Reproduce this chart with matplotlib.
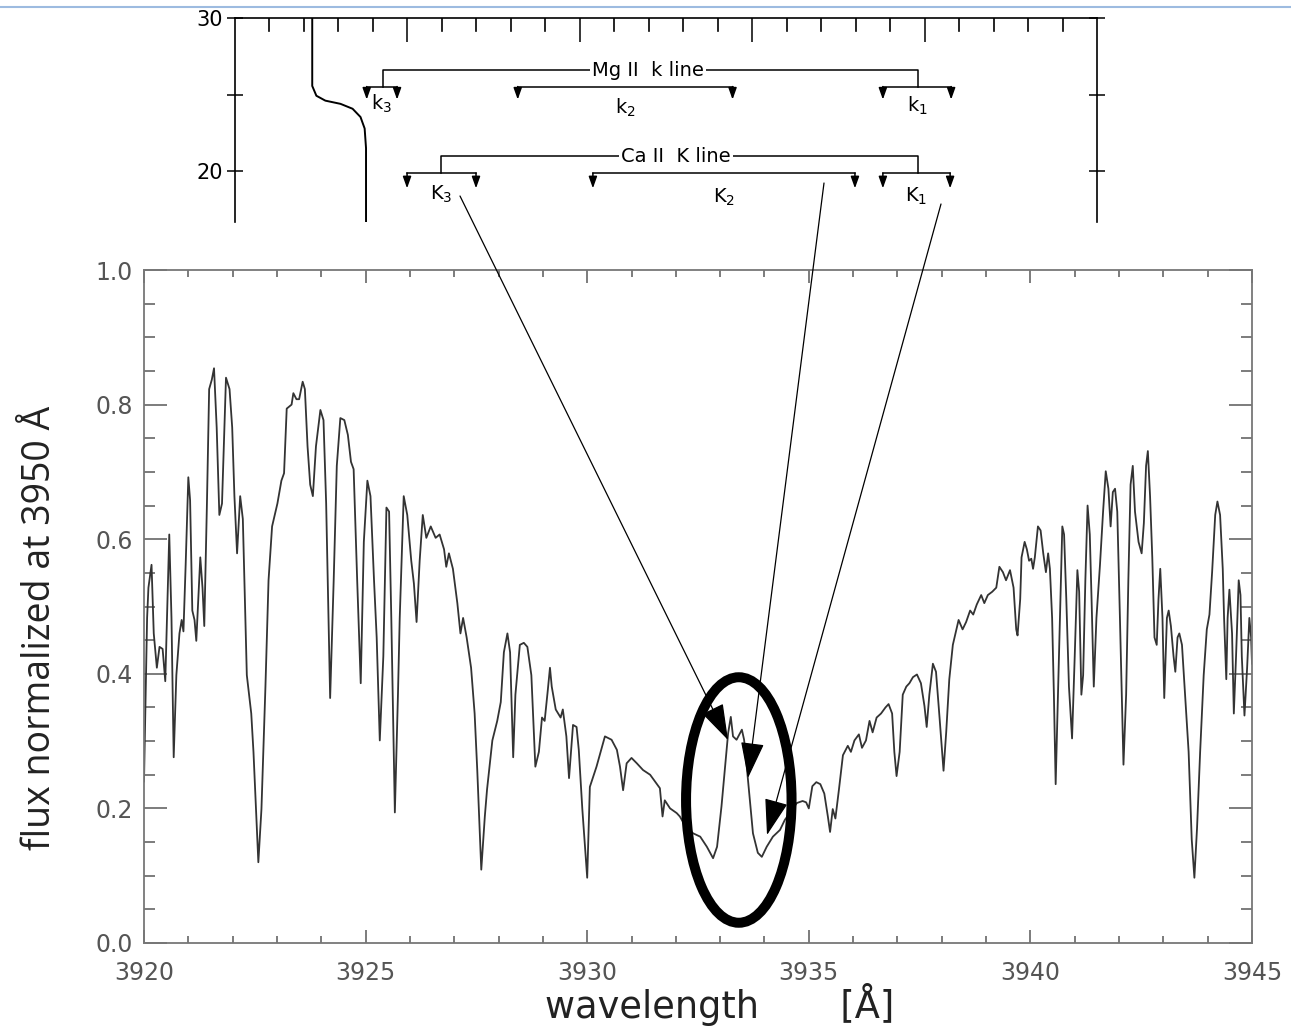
import matplotlib
matplotlib.use("Agg")
import matplotlib.pyplot as plt
from matplotlib.ticker import MultipleLocator, FixedLocator
from matplotlib.patches import Ellipse, FancyArrowPatch
from matplotlib.lines import Line2D

plt.rcParams["mathtext.default"] = "regular"

# Ca II K spectrum (wavelength in A, flux normalized at 3950 A)
wavelength = [
    3920.00, 3920.07, 3920.10, 3920.17, 3920.22, 3920.29, 3920.35, 3920.42, 3920.48, 3920.57,
    3920.62, 3920.67, 3920.73, 3920.80, 3920.85, 3920.89, 3920.94, 3921.00, 3921.04, 3921.09,
    3921.14, 3921.18, 3921.27, 3921.32, 3921.36, 3921.42, 3921.47, 3921.53, 3921.58, 3921.64,
    3921.70, 3921.76, 3921.85, 3921.93, 3921.99, 3922.04, 3922.10, 3922.17, 3922.23, 3922.32,
    3922.42, 3922.47, 3922.58, 3922.65, 3922.74, 3922.81, 3922.89, 3923.01, 3923.10, 3923.16,
    3923.22, 3923.33, 3923.37, 3923.44, 3923.50, 3923.58, 3923.63, 3923.69, 3923.75, 3923.81,
    3923.88, 3923.98, 3924.05, 3924.11, 3924.20, 3924.28, 3924.35, 3924.43, 3924.52, 3924.60,
    3924.67, 3924.73, 3924.81, 3924.89, 3924.96, 3925.04,
    3925.11, 3925.19, 3925.25, 3925.32, 3925.40, 3925.47, 3925.53, 3925.58, 3925.66, 3925.73,
    3925.77, 3925.86, 3925.94, 3926.03, 3926.09, 3926.15, 3926.22, 3926.29, 3926.37, 3926.47,
    3926.58, 3926.67, 3926.77, 3926.82, 3926.88, 3926.97, 3927.07, 3927.14, 3927.20, 3927.28,
    3927.38, 3927.46, 3927.52, 3927.61, 3927.69, 3927.74, 3927.86, 3927.97, 3928.05, 3928.12,
    3928.20, 3928.26, 3928.33, 3928.38, 3928.48, 3928.57, 3928.65, 3928.74, 3928.83, 3928.91,
    3928.98, 3929.04, 3929.11, 3929.16, 3929.20, 3929.29, 3929.40, 3929.45, 3929.53, 3929.59,
    3929.68, 3929.76, 3929.81, 3929.89, 3930.00,
    3930.06, 3930.21, 3930.40, 3930.55, 3930.67, 3930.74, 3930.81, 3930.89, 3931.00, 3931.12,
    3931.26, 3931.42, 3931.53, 3931.64, 3931.70, 3931.75, 3931.87, 3932.02, 3932.09, 3932.25,
    3932.39, 3932.55, 3932.70, 3932.84, 3932.93, 3933.03, 3933.11, 3933.18, 3933.24, 3933.29,
    3933.37, 3933.49, 3933.54, 3933.60, 3933.67, 3933.74, 3933.85, 3933.94, 3934.05, 3934.19,
    3934.35, 3934.46, 3934.57, 3934.73,
    3934.86, 3934.94, 3935.00, 3935.08, 3935.17, 3935.26, 3935.35, 3935.43, 3935.48, 3935.54,
    3935.60, 3935.68, 3935.77, 3935.88, 3935.95, 3936.03, 3936.13, 3936.20, 3936.29, 3936.37,
    3936.44, 3936.53, 3936.63, 3936.73, 3936.80, 3936.88, 3936.93, 3936.98, 3937.05, 3937.12,
    3937.20, 3937.27, 3937.35, 3937.44, 3937.53, 3937.61, 3937.66, 3937.72, 3937.80, 3937.87,
    3937.95, 3938.04, 3938.10, 3938.17, 3938.25, 3938.38, 3938.47, 3938.55, 3938.64, 3938.71,
    3938.79, 3938.89, 3938.96, 3939.04, 3939.14, 3939.23, 3939.30, 3939.38, 3939.45, 3939.54,
    3939.62, 3939.68, 3939.71, 3939.77,
    3939.80, 3939.87, 3939.92, 3939.97, 3940.02, 3940.06, 3940.10, 3940.17, 3940.23, 3940.29,
    3940.35, 3940.40, 3940.44, 3940.49, 3940.53, 3940.57, 3940.60, 3940.66, 3940.72, 3940.76,
    3940.81, 3940.87, 3940.94, 3941.00, 3941.06, 3941.10, 3941.15, 3941.19, 3941.24, 3941.29,
    3941.34, 3941.38, 3941.43, 3941.49, 3941.57, 3941.64, 3941.70, 3941.76, 3941.81, 3941.86,
    3941.91, 3941.96, 3942.02, 3942.10, 3942.16, 3942.21, 3942.26, 3942.31, 3942.36, 3942.44,
    3942.51, 3942.56, 3942.61, 3942.65, 3942.70, 3942.75, 3942.80, 3942.85, 3942.89, 3942.93,
    3942.98, 3943.02, 3943.08, 3943.12, 3943.17, 3943.23, 3943.27, 3943.32, 3943.36, 3943.42,
    3943.49, 3943.57, 3943.64, 3943.70, 3943.76, 3943.83, 3943.91, 3943.98, 3944.04, 3944.10,
    3944.17, 3944.22, 3944.28, 3944.34, 3944.37, 3944.42, 3944.45, 3944.49, 3944.55, 3944.59,
    3944.64, 3944.70, 3944.74, 3944.77, 3944.83, 3944.89, 3944.94, 3944.98, 3945.00,
]
flux = [
    0.240, 0.483, 0.528, 0.562, 0.460, 0.409, 0.440, 0.437, 0.389, 0.607,
    0.483, 0.276, 0.398, 0.460, 0.480, 0.463, 0.562, 0.692, 0.658, 0.494,
    0.480, 0.449, 0.573, 0.528, 0.471, 0.653, 0.823, 0.837, 0.854, 0.766,
    0.636, 0.653, 0.840, 0.823, 0.766, 0.664, 0.579, 0.664, 0.630, 0.398,
    0.341, 0.284, 0.120, 0.199, 0.381, 0.539, 0.619, 0.653, 0.687, 0.698,
    0.794, 0.800, 0.817, 0.808, 0.808, 0.834, 0.823, 0.738, 0.681, 0.664,
    0.738, 0.792, 0.777, 0.653, 0.364, 0.539, 0.709, 0.780, 0.777, 0.755,
    0.715, 0.704, 0.539, 0.386, 0.596, 0.687,
    0.664, 0.539, 0.454, 0.301, 0.426, 0.647, 0.641, 0.483, 0.194, 0.369,
    0.483, 0.664, 0.636, 0.568, 0.534, 0.477, 0.568, 0.636, 0.602, 0.619,
    0.602, 0.607, 0.585, 0.559, 0.579, 0.556, 0.505, 0.460, 0.483, 0.454,
    0.409, 0.341, 0.256, 0.109, 0.188, 0.228, 0.301, 0.330, 0.358, 0.432,
    0.460, 0.432, 0.276, 0.369, 0.443, 0.446, 0.440, 0.398, 0.262, 0.284,
    0.335, 0.330, 0.375, 0.409, 0.381, 0.347, 0.335, 0.347, 0.307, 0.245,
    0.324, 0.321, 0.287, 0.199, 0.097,
    0.232, 0.262, 0.307, 0.302, 0.287, 0.262, 0.227, 0.267, 0.275, 0.267,
    0.257, 0.250, 0.240, 0.230, 0.188, 0.212, 0.200, 0.193, 0.188, 0.170,
    0.163, 0.158, 0.143, 0.126, 0.143, 0.203, 0.262, 0.312, 0.336, 0.307,
    0.302, 0.317, 0.302, 0.262, 0.212, 0.163, 0.134, 0.128, 0.143, 0.158,
    0.168, 0.183, 0.193, 0.208,
    0.211, 0.209, 0.200, 0.233, 0.239, 0.236, 0.222, 0.188, 0.165, 0.199,
    0.185, 0.228, 0.279, 0.293, 0.284, 0.301, 0.310, 0.290, 0.301, 0.330,
    0.313, 0.335, 0.341, 0.350, 0.355, 0.341, 0.284, 0.248, 0.284, 0.369,
    0.381, 0.386, 0.395, 0.399, 0.386, 0.352, 0.321, 0.369, 0.415, 0.403,
    0.335, 0.256, 0.313, 0.392, 0.443, 0.480, 0.466, 0.477, 0.494, 0.488,
    0.503, 0.517, 0.505, 0.517, 0.522, 0.528, 0.559, 0.551, 0.539, 0.554,
    0.528, 0.466, 0.457, 0.511,
    0.573, 0.596, 0.585, 0.568, 0.571, 0.556, 0.573, 0.619, 0.613, 0.579,
    0.551, 0.579, 0.556, 0.483, 0.369, 0.236, 0.313, 0.471, 0.619, 0.607,
    0.511, 0.381, 0.304, 0.426, 0.554, 0.522, 0.369, 0.398, 0.539, 0.650,
    0.607, 0.511, 0.381, 0.483, 0.562, 0.641, 0.701, 0.675, 0.619, 0.670,
    0.675, 0.641, 0.483, 0.265, 0.369, 0.539, 0.681, 0.709, 0.641, 0.596,
    0.579, 0.624, 0.709, 0.731, 0.664, 0.573, 0.454, 0.443, 0.511, 0.556,
    0.483, 0.364, 0.483, 0.494, 0.471, 0.426, 0.403, 0.454, 0.460, 0.443,
    0.369, 0.284, 0.154, 0.097, 0.171, 0.284, 0.398, 0.466, 0.488, 0.551,
    0.636, 0.656, 0.636, 0.556, 0.483, 0.392, 0.483, 0.525, 0.460, 0.341,
    0.426, 0.539, 0.517, 0.426, 0.338, 0.409, 0.483, 0.454, 0.415,
]

x_ticks = [3920, 3925, 3930, 3935, 3940, 3945]
y_ticks = [0.0, 0.2, 0.4, 0.6, 0.8, 1.0]

# inset (cut-out of the older figure): height profile on the left
profile_x = [2.24, 2.24, 2.36, 2.62, 3.06, 3.41, 3.64, 3.76, 3.80, 3.80]
profile_y = [30.0, 25.56, 24.92, 24.60, 24.39, 24.07, 23.53, 22.78, 21.50, 16.67]
inset_y_ticks = [20, 30]
inset_long_ticks = [5, 10, 15, 20]
inset_short_ticks = [1, 2, 3, 4, 6, 7, 8, 9, 11, 12, 13, 14, 16, 17, 18, 19, 21, 22, 23, 24]

W, H = 1291, 1026


def fig_xy(px, py):
    return px / W, 1 - py / H


fig = plt.figure(figsize=(W / 100, H / 100), dpi=100)

# ---- main spectrum
ax = fig.add_axes([144 / W, 1 - 943 / H, 1108 / W, 673 / H])
ax.plot(wavelength, flux, color="#333333", lw=1.3)
ax.set_xlim(3920, 3945)
ax.set_ylim(0, 1)
ax.set_xticks(x_ticks)
ax.set_xticklabels([str(t) for t in x_ticks])
ax.set_yticks(y_ticks)
ax.set_yticklabels([f"{t:.1f}" for t in y_ticks])
ax.xaxis.set_minor_locator(MultipleLocator(1))
ax.yaxis.set_minor_locator(MultipleLocator(0.05))
for s in ax.spines.values():
    s.set_color("#777777")
    s.set_linewidth(1.3)
ax.tick_params(axis="x", which="major", direction="in", length=9.5, width=1.2, top=True,
               color="#666666", pad=13, labelsize=17, labelcolor="#555555")
ax.tick_params(axis="x", which="minor", direction="in", length=5, width=1.2, top=True, color="#666666")
ax.tick_params(axis="y", which="major", direction="in", length=16.5, width=1.2, right=True,
               color="#666666", pad=8, labelsize=17, labelcolor="#555555")
ax.tick_params(axis="y", which="minor", direction="in", length=8, width=1.2, right=True, color="#666666")

fig.text(40 / W, 0.388, "flux normalized at 3950 Å", rotation=90, fontsize=27,
         family=["Open Sans", "DejaVu Sans"], color="#222222", ha="center", va="center")
fig.text(720 / W, 0.021, "wavelength       [Å]", fontsize=26.5, family="DejaVu Sans",
         color="#222222", ha="center", va="center")

# ---- inset
ai = fig.add_axes([235 / W, 1 - 222 / H, 862 / W, 204 / H])
ai.plot(profile_x, profile_y, color="black", lw=1.4)
ai.set_xlim(0, 25)
ai.set_ylim(16.67, 30)
ai.spines["bottom"].set_visible(False)
for s in ("top", "left", "right"):
    ai.spines[s].set_linewidth(1.2)
ai.set_xticks(inset_long_ticks)
ai.tick_params(axis="x", direction="in", length=17, width=1.1,
               top=True, bottom=False, labeltop=False, labelbottom=False)
# short ticks hanging from the top edge
for t in inset_short_ticks:
    ai.axvline(t, ymin=0.935, ymax=1.0, color="black", lw=1.2)

ai.set_yticks(inset_y_ticks)
ai.set_yticklabels([str(t) for t in inset_y_ticks])
ai.yaxis.set_minor_locator(FixedLocator([25]))
ai.tick_params(axis="y", which="both", direction="inout", length=11, width=1.1, left=True, right=True,
               labelsize=15, pad=3)

lbl = dict(fontsize=14, family="DejaVu Sans", ha="center", va="center")
arrow_small = dict(arrowstyle="-|>,head_length=0.7,head_width=0.25", color="black", lw=1.1,
                   shrinkA=0, shrinkB=0, mutation_scale=10)


def bracket(x0, x1, y, drop, label, ly):
    ai.plot([x0, x1], [y, y], color="black", lw=1.1)
    for xx in (x0, x1):
        ai.annotate("", xy=(xx, y - drop), xytext=(xx, y), arrowprops=arrow_small)
    ai.text((x0 + x1) / 2, ly, label, **lbl)


# Mg II k line
ai.plot([4.29, 4.29, 19.81, 19.81], [25.52, 26.60, 26.60, 25.52], color="black", lw=1.1)
ai.text(11.98, 26.60, "Mg II  k line", bbox=dict(fc="white", ec="none", pad=1.5), **lbl)
bracket(3.82, 4.70, 25.52, 0.85, "k$_3$", 24.4)
bracket(8.20, 14.43, 25.52, 0.85, "k$_2$", 24.1)
bracket(18.79, 20.77, 25.52, 0.85, "k$_1$", 24.25)

# Ca II K line
ai.plot([5.96, 5.96, 19.81, 19.81], [19.87, 20.98, 20.98, 19.87], color="black", lw=1.1)
ai.text(12.79, 20.98, "Ca II  K line", bbox=dict(fc="white", ec="none", pad=1.5), **lbl)
bracket(4.99, 6.99, 19.87, 1.0, "K$_3$", 18.45)
bracket(10.38, 17.98, 19.87, 1.0, "K$_2$", 18.3)
bracket(18.79, 20.74, 19.87, 1.0, "K$_1$", 18.35)

# ---- ellipse and pointer arrows
fig.add_artist(Ellipse(fig_xy(738.8, 800), 105.5 / W, 245.5 / H, transform=fig.transFigure,
                       fill=False, ec="black", lw=7.2, zorder=5))
for (x0, y0), (x1, y1) in [((460, 196), (728, 740)), ((824, 183), (748, 778)), ((941, 204), (767, 835))]:
    fig.add_artist(FancyArrowPatch(fig_xy(x0, y0), fig_xy(x1, y1), transform=fig.transFigure,
                                   arrowstyle="-|>,head_length=23,head_width=7.5", mutation_scale=1,
                                   color="black", lw=0.9, shrinkA=0, shrinkB=0, zorder=6))

# thin blue slide rule at the very top
fig.add_artist(Line2D([0, 1], [1 - 7 / H, 1 - 7 / H], transform=fig.transFigure, color="#9dbbe0", lw=1.5))

fig.savefig("out.png", dpi=100)
